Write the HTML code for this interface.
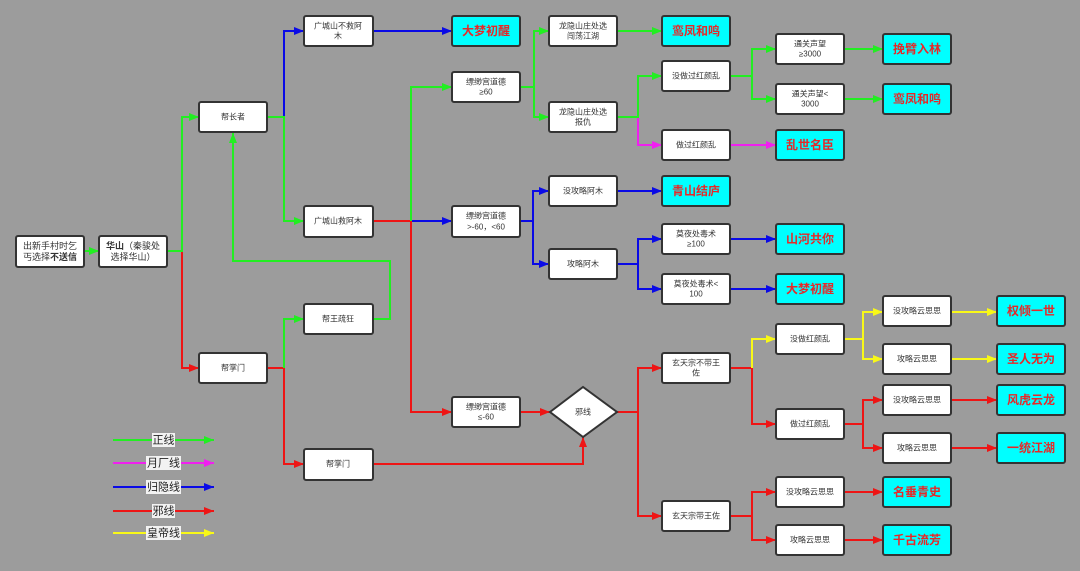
<!DOCTYPE html>
<html><head><meta charset="utf-8"><style>
html,body{margin:0;padding:0;background:#9c9c9c;}
svg{display:block;}
text{font-family:"Liberation Sans","Noto Sans CJK SC",sans-serif;}
.w{fill:#fff;stroke:#333;stroke-width:2;}
.c{fill:#00ffff;stroke:#333;stroke-width:2;}
.t{font-size:8px;fill:#333;text-anchor:middle;dominant-baseline:central;}
.t9{font-size:9px;fill:#333;text-anchor:middle;dominant-baseline:central;}
.r{font-size:12px;font-weight:bold;fill:#e62828;text-anchor:middle;dominant-baseline:central;}
.lg{font-size:11px;fill:#222;text-anchor:middle;dominant-baseline:central;}
.G{stroke:#22ee22;stroke-width:2;fill:none;}
.B{stroke:#0a0ae6;stroke-width:2;fill:none;}
.R{stroke:#ee1515;stroke-width:2;fill:none;}
.M{stroke:#f020f0;stroke-width:2;fill:none;}
.Y{stroke:#f8f818;stroke-width:2;fill:none;}
</style></head><body>
<svg width="1080" height="571" viewBox="0 0 1080 571" xmlns="http://www.w3.org/2000/svg">
<defs>
<marker id="aG" markerUnits="userSpaceOnUse" markerWidth="10" markerHeight="8" refX="10" refY="4" viewBox="0 0 10 8" orient="auto"><path d="M0,0L10,4L0,8z" fill="#22ee22"/></marker>
<marker id="aB" markerUnits="userSpaceOnUse" markerWidth="10" markerHeight="8" refX="10" refY="4" viewBox="0 0 10 8" orient="auto"><path d="M0,0L10,4L0,8z" fill="#0a0ae6"/></marker>
<marker id="aR" markerUnits="userSpaceOnUse" markerWidth="10" markerHeight="8" refX="10" refY="4" viewBox="0 0 10 8" orient="auto"><path d="M0,0L10,4L0,8z" fill="#ee1515"/></marker>
<marker id="aM" markerUnits="userSpaceOnUse" markerWidth="10" markerHeight="8" refX="10" refY="4" viewBox="0 0 10 8" orient="auto"><path d="M0,0L10,4L0,8z" fill="#f020f0"/></marker>
<marker id="aY" markerUnits="userSpaceOnUse" markerWidth="10" markerHeight="8" refX="10" refY="4" viewBox="0 0 10 8" orient="auto"><path d="M0,0L10,4L0,8z" fill="#f8f818"/></marker>
</defs>
<rect x="0" y="0" width="1080" height="571" fill="#9c9c9c"/>

<!-- connectors -->
<polyline class="G" points="84,251 99,251" marker-end="url(#aG)"/>
<polyline class="R" points="182,251 182,368 199,368" marker-end="url(#aR)"/>
<polyline class="G" points="167,251 182,251 182,117 199,117" marker-end="url(#aG)"/>
<polyline class="B" points="284,117 284,31 304,31" marker-end="url(#aB)"/>
<polyline class="G" points="267,117 284,117 284,221 304,221" marker-end="url(#aG)"/>
<polyline class="B" points="373,31 452,31" marker-end="url(#aB)"/>
<polyline class="R" points="373,221 411,221 411,412 452,412" marker-end="url(#aR)"/>
<polyline class="G" points="411,221 411,87 452,87" marker-end="url(#aG)"/>
<polyline class="B" points="412,221 452,221" marker-end="url(#aB)"/>
<polyline class="G" points="520,87 534,87 534,31 549,31" marker-end="url(#aG)"/>
<polyline class="G" points="534,87 534,117 549,117" marker-end="url(#aG)"/>
<polyline class="G" points="617,31 662,31" marker-end="url(#aG)"/>
<polyline class="M" points="638,117 638,145 662,145" marker-end="url(#aM)"/>
<polyline class="G" points="617,117 638,117 638,76 662,76" marker-end="url(#aG)"/>
<polyline class="G" points="730,76 752,76 752,49 776,49" marker-end="url(#aG)"/>
<polyline class="G" points="752,76 752,99 776,99" marker-end="url(#aG)"/>
<polyline class="G" points="844,49 883,49" marker-end="url(#aG)"/>
<polyline class="G" points="844,99 883,99" marker-end="url(#aG)"/>
<polyline class="M" points="730,145 776,145" marker-end="url(#aM)"/>
<polyline class="B" points="520,221 533,221 533,191 549,191" marker-end="url(#aB)"/>
<polyline class="B" points="533,221 533,264 549,264" marker-end="url(#aB)"/>
<polyline class="B" points="617,191 662,191" marker-end="url(#aB)"/>
<polyline class="B" points="617,264 638,264 638,239 662,239" marker-end="url(#aB)"/>
<polyline class="B" points="638,264 638,289 662,289" marker-end="url(#aB)"/>
<polyline class="B" points="730,239 776,239" marker-end="url(#aB)"/>
<polyline class="B" points="730,289 776,289" marker-end="url(#aB)"/>
<polyline class="R" points="267,368 284,368 284,464 304,464" marker-end="url(#aR)"/>
<polyline class="G" points="284,368 284,319 304,319" marker-end="url(#aG)"/>
<polyline class="G" points="373,319 390,319 390,261 233,261 233,133" marker-end="url(#aG)"/>
<polyline class="R" points="373,464 583,464 583,437" marker-end="url(#aR)"/>
<polyline class="R" points="520,412 550,412" marker-end="url(#aR)"/>
<polyline class="R" points="617,412 638,412 638,368 662,368" marker-end="url(#aR)"/>
<polyline class="R" points="638,412 638,516 662,516" marker-end="url(#aR)"/>
<polyline class="R" points="752,368 752,424 776,424" marker-end="url(#aR)"/>
<polyline class="R" points="730,368 752,368"/>
<polyline class="Y" points="752,368 752,339 776,339" marker-end="url(#aY)"/>
<polyline class="Y" points="844,339 863,339 863,312 883,312" marker-end="url(#aY)"/>
<polyline class="Y" points="863,339 863,359 883,359" marker-end="url(#aY)"/>
<polyline class="Y" points="951,312 997,312" marker-end="url(#aY)"/>
<polyline class="Y" points="951,359 997,359" marker-end="url(#aY)"/>
<polyline class="R" points="844,424 863,424 863,400 883,400" marker-end="url(#aR)"/>
<polyline class="R" points="863,424 863,448 883,448" marker-end="url(#aR)"/>
<polyline class="R" points="951,400 997,400" marker-end="url(#aR)"/>
<polyline class="R" points="951,448 997,448" marker-end="url(#aR)"/>
<polyline class="R" points="730,516 752,516 752,492 776,492" marker-end="url(#aR)"/>
<polyline class="R" points="752,516 752,540 776,540" marker-end="url(#aR)"/>
<polyline class="R" points="844,492 883,492" marker-end="url(#aR)"/>
<polyline class="R" points="844,540 883,540" marker-end="url(#aR)"/>

<!-- white boxes -->
<rect class="w" x="16" y="236" width="68" height="31" rx="2"/>
<text class="t9" x="50" y="246">出新手村时乞</text>
<text class="t9" x="50" y="257">丐选择<tspan font-weight="bold">不送信</tspan></text>
<rect class="w" x="99" y="236" width="68" height="31" rx="2"/>
<text class="t9" x="133" y="246"><tspan font-weight="bold">华山</tspan>（秦骏处</text>
<text class="t9" x="133" y="257">选择华山）</text>
<rect class="w" x="199" y="102" width="68" height="30" rx="2"/>
<text class="t" x="233" y="117">帮长者</text>
<rect class="w" x="199" y="353" width="68" height="30" rx="2"/>
<text class="t" x="233" y="368">帮掌门</text>
<rect class="w" x="304" y="16" width="69" height="30" rx="2"/>
<text class="t" x="338" y="26">广城山不救阿</text>
<text class="t" x="338" y="36">木</text>
<rect class="w" x="304" y="206" width="69" height="31" rx="2"/>
<text class="t" x="338" y="221">广城山救阿木</text>
<rect class="w" x="304" y="304" width="69" height="30" rx="2"/>
<text class="t" x="338" y="319">帮王疏狂</text>
<rect class="w" x="304" y="449" width="69" height="31" rx="2"/>
<text class="t" x="338" y="464">帮掌门</text>
<rect class="w" x="452" y="72" width="68" height="30" rx="2"/>
<text class="t" x="486" y="82">缥缈宫道德</text>
<text class="t" x="486" y="92">≥60</text>
<rect class="w" x="452" y="206" width="68" height="31" rx="2"/>
<text class="t" x="486" y="216">缥缈宫道德</text>
<text class="t" x="486" y="227">&gt;-60，&lt;60</text>
<rect class="w" x="452" y="397" width="68" height="30" rx="2"/>
<text class="t" x="486" y="407">缥缈宫道德</text>
<text class="t" x="486" y="417">≤-60</text>
<rect class="w" x="549" y="16" width="68" height="30" rx="2"/>
<text class="t" x="583" y="26">龙隐山庄处选</text>
<text class="t" x="583" y="36">闯荡江湖</text>
<rect class="w" x="549" y="102" width="68" height="30" rx="2"/>
<text class="t" x="583" y="112">龙隐山庄处选</text>
<text class="t" x="583" y="122">报仇</text>
<rect class="w" x="549" y="176" width="68" height="30" rx="2"/>
<text class="t" x="583" y="191">没攻略阿木</text>
<rect class="w" x="549" y="249" width="68" height="30" rx="2"/>
<text class="t" x="583" y="264">攻略阿木</text>
<rect class="w" x="662" y="61" width="68" height="30" rx="2"/>
<text class="t" x="696" y="76">没做过红颜乱</text>
<rect class="w" x="662" y="130" width="68" height="30" rx="2"/>
<text class="t" x="696" y="145">做过红颜乱</text>
<rect class="w" x="662" y="224" width="68" height="30" rx="2"/>
<text class="t" x="696" y="234">莫夜处毒术</text>
<text class="t" x="696" y="244">≥100</text>
<rect class="w" x="662" y="274" width="68" height="30" rx="2"/>
<text class="t" x="696" y="284">莫夜处毒术&lt;</text>
<text class="t" x="696" y="294">100</text>
<rect class="w" x="662" y="353" width="68" height="30" rx="2"/>
<text class="t" x="696" y="363">玄天宗不带王</text>
<text class="t" x="696" y="373">佐</text>
<rect class="w" x="662" y="501" width="68" height="30" rx="2"/>
<text class="t" x="696" y="516">玄天宗带王佐</text>
<rect class="w" x="776" y="34" width="68" height="30" rx="2"/>
<text class="t" x="810" y="44">通关声望</text>
<text class="t" x="810" y="54">≥3000</text>
<rect class="w" x="776" y="84" width="68" height="30" rx="2"/>
<text class="t" x="810" y="94">通关声望&lt;</text>
<text class="t" x="810" y="104">3000</text>
<rect class="w" x="776" y="324" width="68" height="30" rx="2"/>
<text class="t" x="810" y="339">没做红颜乱</text>
<rect class="w" x="776" y="409" width="68" height="30" rx="2"/>
<text class="t" x="810" y="424">做过红颜乱</text>
<rect class="w" x="776" y="477" width="68" height="30" rx="2"/>
<text class="t" x="810" y="492">没攻略云思思</text>
<rect class="w" x="776" y="525" width="68" height="30" rx="2"/>
<text class="t" x="810" y="540">攻略云思思</text>
<rect class="w" x="883" y="296" width="68" height="30" rx="2"/>
<text class="t" x="917" y="311">没攻略云思思</text>
<rect class="w" x="883" y="344" width="68" height="30" rx="2"/>
<text class="t" x="917" y="359">攻略云思思</text>
<rect class="w" x="883" y="385" width="68" height="30" rx="2"/>
<text class="t" x="917" y="400">没攻略云思思</text>
<rect class="w" x="883" y="433" width="68" height="30" rx="2"/>
<text class="t" x="917" y="448">攻略云思思</text>

<!-- diamond -->
<polygon points="550,412 583,387 617,412 583,437" fill="#fff" stroke="#333" stroke-width="2"/>
<text class="t" x="583" y="412">邪线</text>

<!-- cyan boxes -->
<rect class="c" x="452" y="16" width="68" height="30" rx="2"/>
<text class="r" x="486" y="31">大梦初醒</text>
<rect class="c" x="662" y="16" width="68" height="30" rx="2"/>
<text class="r" x="696" y="31">鸾凤和鸣</text>
<rect class="c" x="883" y="34" width="68" height="30" rx="2"/>
<text class="r" x="917" y="49">挽臂入林</text>
<rect class="c" x="883" y="84" width="68" height="30" rx="2"/>
<text class="r" x="917" y="99">鸾凤和鸣</text>
<rect class="c" x="776" y="130" width="68" height="30" rx="2"/>
<text class="r" x="810" y="145">乱世名臣</text>
<rect class="c" x="662" y="176" width="68" height="30" rx="2"/>
<text class="r" x="696" y="191">青山结庐</text>
<rect class="c" x="776" y="224" width="68" height="30" rx="2"/>
<text class="r" x="810" y="239">山河共你</text>
<rect class="c" x="776" y="274" width="68" height="30" rx="2"/>
<text class="r" x="810" y="289">大梦初醒</text>
<rect class="c" x="997" y="296" width="68" height="30" rx="2"/>
<text class="r" x="1031" y="311">权倾一世</text>
<rect class="c" x="997" y="344" width="68" height="30" rx="2"/>
<text class="r" x="1031" y="359">圣人无为</text>
<rect class="c" x="997" y="385" width="68" height="30" rx="2"/>
<text class="r" x="1031" y="400">风虎云龙</text>
<rect class="c" x="997" y="433" width="68" height="30" rx="2"/>
<text class="r" x="1031" y="448">一统江湖</text>
<rect class="c" x="883" y="477" width="68" height="30" rx="2"/>
<text class="r" x="917" y="492">名垂青史</text>
<rect class="c" x="883" y="525" width="68" height="30" rx="2"/>
<text class="r" x="917" y="540">千古流芳</text>

<!-- legend -->
<line class="G" x1="113" y1="440" x2="214" y2="440" marker-end="url(#aG)"/>
<rect x="152" y="433" width="23" height="14" fill="#f2f2f2"/>
<text class="lg" x="163.5" y="440.5">正线</text>
<line class="M" x1="113" y1="463" x2="214" y2="463" marker-end="url(#aM)"/>
<rect x="146" y="456" width="35" height="14" fill="#f2f2f2"/>
<text class="lg" x="163.5" y="463.5">月厂线</text>
<line class="B" x1="113" y1="487" x2="214" y2="487" marker-end="url(#aB)"/>
<rect x="146" y="480" width="35" height="14" fill="#f2f2f2"/>
<text class="lg" x="163.5" y="487.5">归隐线</text>
<line class="R" x1="113" y1="511" x2="214" y2="511" marker-end="url(#aR)"/>
<rect x="152" y="504" width="23" height="14" fill="#f2f2f2"/>
<text class="lg" x="163.5" y="511.5">邪线</text>
<line class="Y" x1="113" y1="533" x2="214" y2="533" marker-end="url(#aY)"/>
<rect x="146" y="526" width="35" height="14" fill="#f2f2f2"/>
<text class="lg" x="163.5" y="533.5">皇帝线</text>
</svg>
</body></html>
